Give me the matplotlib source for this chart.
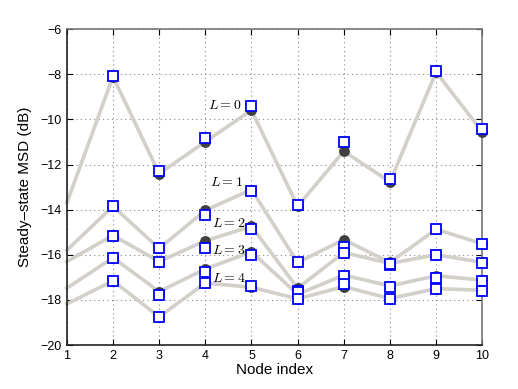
import numpy as np
import matplotlib
matplotlib.use("Agg")
import matplotlib.pyplot as plt

plt.rcParams['font.family'] = ['Liberation Sans', 'DejaVu Sans']
plt.rcParams['mathtext.fontset'] = 'cm'

nodes = np.arange(1, 11)

# theory (gray line + dark circles), simulation (blue squares); x=1 has no markers
theory = {
    0: [-13.7, -8.1, -12.4, -10.99, -9.59, -13.85, -11.41, -12.77, -7.9, -10.55],
    1: [-15.8, -13.85, -15.72, -14.03, -13.11, -16.34, -15.33, -16.34, -14.87, -15.51],
    2: [-16.3, -15.14, -16.3, -15.38, -14.74, -17.48, -15.9, -16.38, -16.0, -16.33],
    3: [-17.48, -16.13, -17.63, -16.63, -15.87, -17.75, -16.9, -17.38, -16.93, -17.12],
    4: [-18.18, -17.15, -18.75, -17.25, -17.44, -17.95, -17.41, -17.94, -17.5, -17.57],
}
sim = {
    0: [None, -8.07, -12.29, -10.82, -9.40, -13.81, -10.99, -12.62, -7.86, -10.43],
    1: [None, -13.82, -15.70, -14.22, -13.19, -16.34, -15.67, -16.45, -14.87, -15.51],
    2: [None, -15.16, -16.32, -15.70, -14.84, -17.6, -15.93, -16.4, -16.03, -16.36],
    3: [None, -16.15, -17.78, -16.76, -16.01, -17.65, -16.92, -17.41, -17.05, -17.17],
    4: [None, -17.16, -18.77, -17.27, -17.38, -17.97, -17.3, -17.96, -17.52, -17.59],
}
label_pos = {0: (4.43, -9.37), 1: (4.45, -12.78), 2: (4.5, -14.6), 3: (4.5, -15.8), 4: (4.5, -17.03)}

fig = plt.figure(figsize=(5.18, 3.89), dpi=100)
ax = fig.add_axes([0.129, 0.113, 0.802, 0.812])

for L in range(5):
    ax.plot(nodes, theory[L], color='#d3cfc9', lw=2.6, zorder=2, clip_on=False)
    ax.plot(nodes[1:], theory[L][1:], 'o', color='#404040', ms=6.8, zorder=3, clip_on=False)
    s = np.array(sim[L][1:], dtype=float)
    ax.plot(nodes[1:], s, 's', mfc='white', mec='#0000ff', mew=1.3, ms=6.8, zorder=4, clip_on=False)
    ax.text(label_pos[L][0], label_pos[L][1], r'$L = %d$' % L, fontsize=10,
            ha='center', va='center', zorder=5)

ax.set_xlim(1, 10)
ax.set_ylim(-20, -6)
ax.set_xticks(nodes)
ax.set_yticks(np.arange(-20, -5, 2))
ax.grid(True, linestyle=(0, (1, 3)), color='#888888', lw=0.8)
ax.tick_params(direction='in', top=True, right=True, labelsize=9, length=4, width=0.8)
for name, sp in ax.spines.items():
    sp.set_color('#222222' if name in ('left', 'bottom') else '#777777')
    sp.set_linewidth(1.2)
ax.set_xlabel('Node index', fontsize=11, labelpad=1)
ax.set_ylabel('Steady\u2013state MSD (dB)', fontsize=11, labelpad=6)

fig.savefig('out.png', dpi=100)
